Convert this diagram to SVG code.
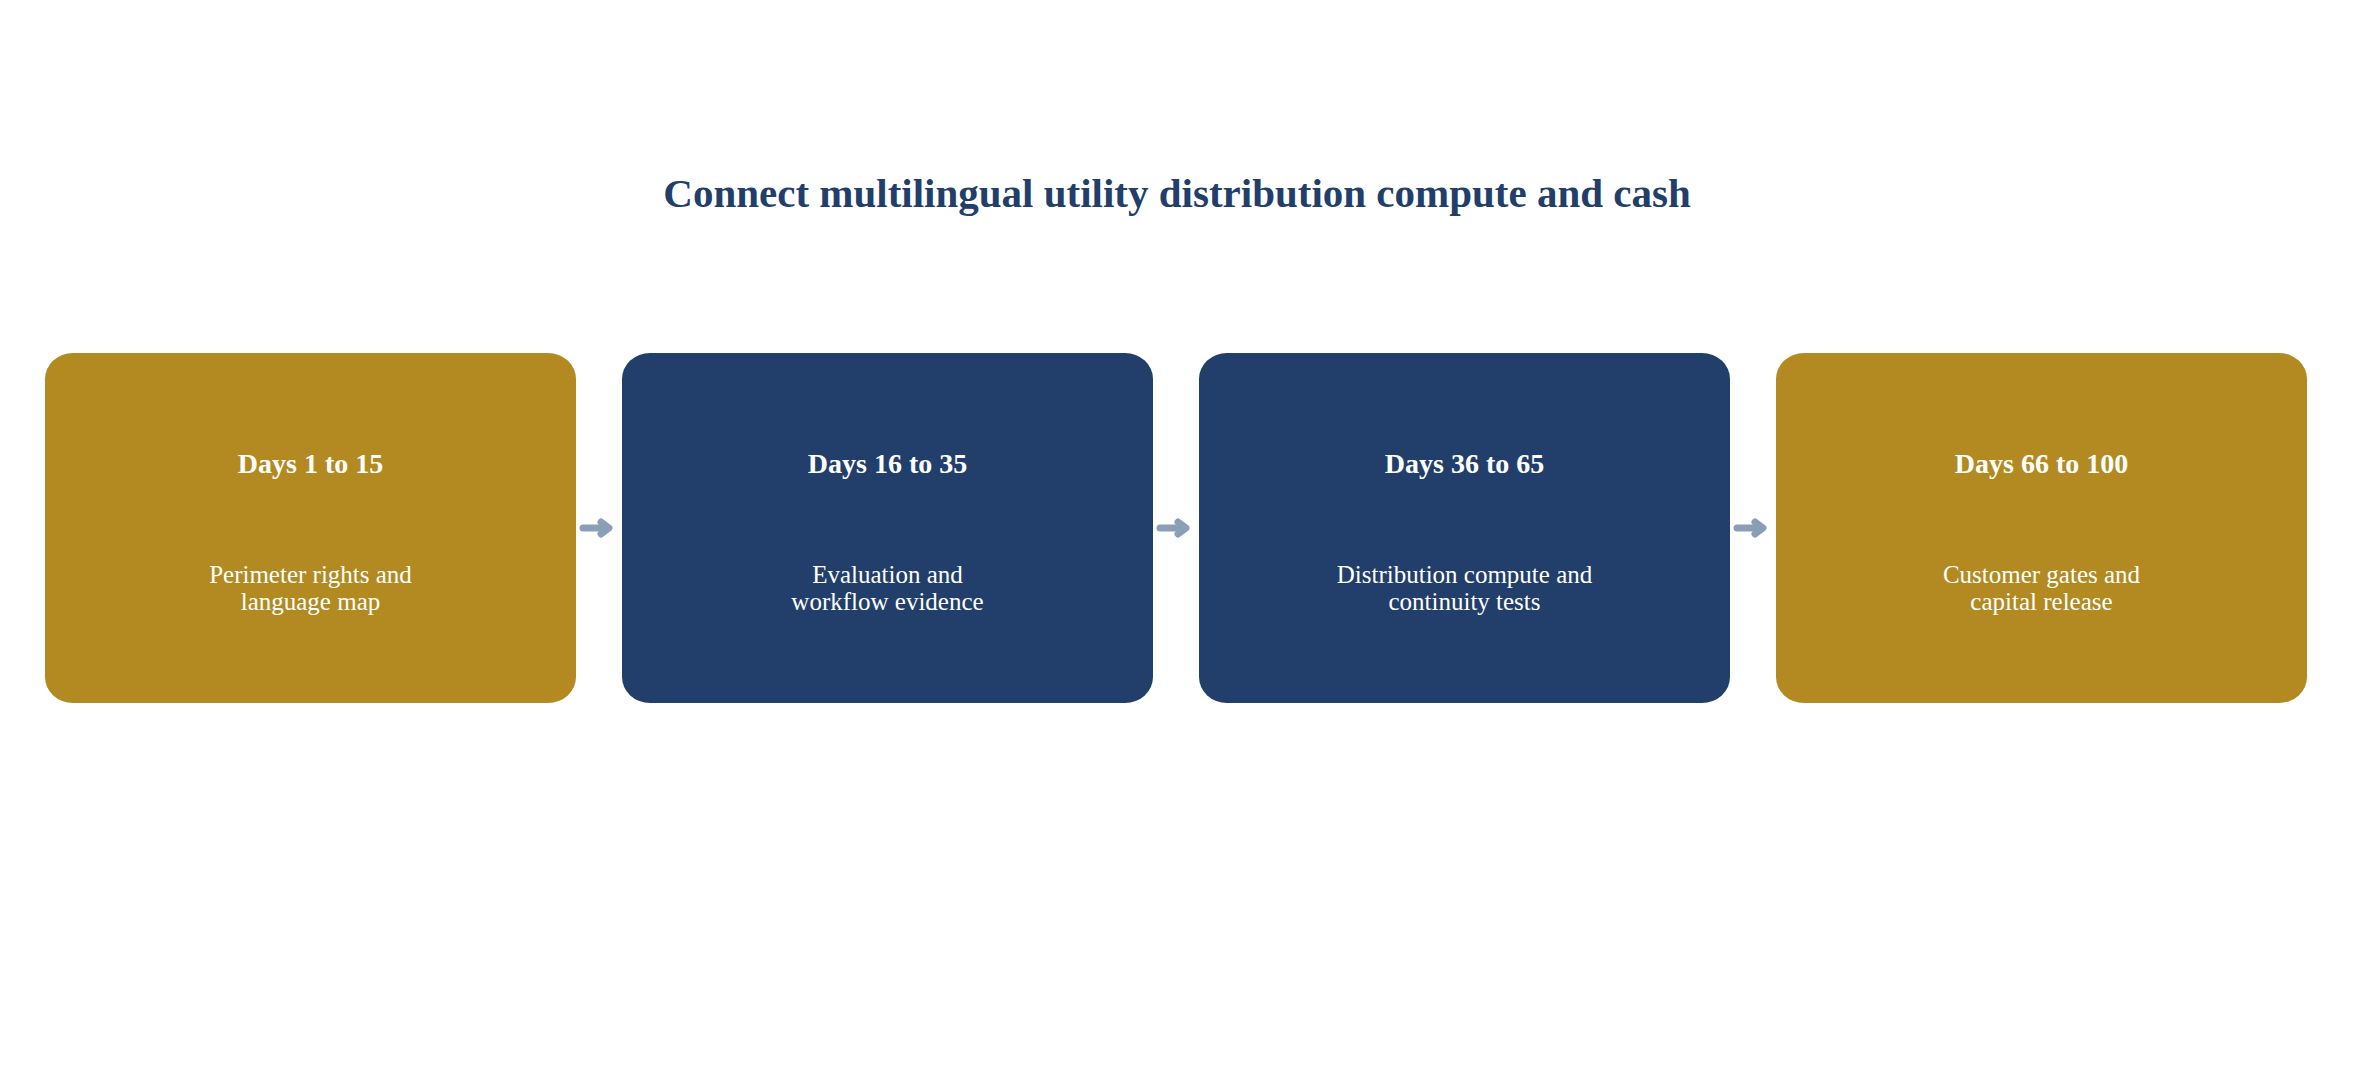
<svg xmlns="http://www.w3.org/2000/svg" width="2354" height="1078" viewBox="0 0 2354 1078">
<style>
.title{font-family:"Liberation Serif","Times New Roman",serif;font-weight:bold;font-size:41px;fill:#213F6A;text-anchor:middle}
.head{font-family:"Liberation Serif","Times New Roman",serif;font-weight:bold;font-size:28px;fill:#FFFFFF;text-anchor:middle}
.body{font-family:"Liberation Serif","Times New Roman",serif;font-size:25px;fill:#FFFFFF;text-anchor:middle}
.gold{fill:#B38A21}
.navy{fill:#213F6A}
.conn{stroke:#8A9FB5;stroke-width:7;stroke-linecap:round;fill:none}
.tip{fill:none;stroke:#8A9FB5;stroke-width:7;stroke-linecap:round;stroke-linejoin:round}
</style>
<rect width="2354" height="1078" fill="#FFFFFF"/>
<text class="title" x="1177" y="207">Connect multilingual utility distribution compute and cash</text>
<g id="connectors">
<path class="conn" d="M583,528 H607"/><path class="tip" d="M601,522 L609,528 L601,534"/>
<path class="conn" d="M1160,528 H1184"/><path class="tip" d="M1178,522 L1186,528 L1178,534"/>
<path class="conn" d="M1737,528 H1761"/><path class="tip" d="M1755,522 L1763,528 L1755,534"/>
</g>
<g id="node1">
<rect class="gold" x="45" y="353" width="531" height="350" rx="28" ry="26"/>
<text class="head" x="310.5" y="473">Days 1 to 15</text>
<text class="body" x="310.5" y="583">Perimeter rights and</text>
<text class="body" x="310.5" y="610">language map</text>
</g>
<g id="node2">
<rect class="navy" x="622" y="353" width="531" height="350" rx="28" ry="26"/>
<text class="head" x="887.5" y="473">Days 16 to 35</text>
<text class="body" x="887.5" y="583">Evaluation and</text>
<text class="body" x="887.5" y="610">workflow evidence</text>
</g>
<g id="node3">
<rect class="navy" x="1199" y="353" width="531" height="350" rx="28" ry="26"/>
<text class="head" x="1464.5" y="473">Days 36 to 65</text>
<text class="body" x="1464.5" y="583">Distribution compute and</text>
<text class="body" x="1464.5" y="610">continuity tests</text>
</g>
<g id="node4">
<rect class="gold" x="1776" y="353" width="531" height="350" rx="28" ry="26"/>
<text class="head" x="2041.5" y="473">Days 66 to 100</text>
<text class="body" x="2041.5" y="583">Customer gates and</text>
<text class="body" x="2041.5" y="610">capital release</text>
</g>
</svg>
